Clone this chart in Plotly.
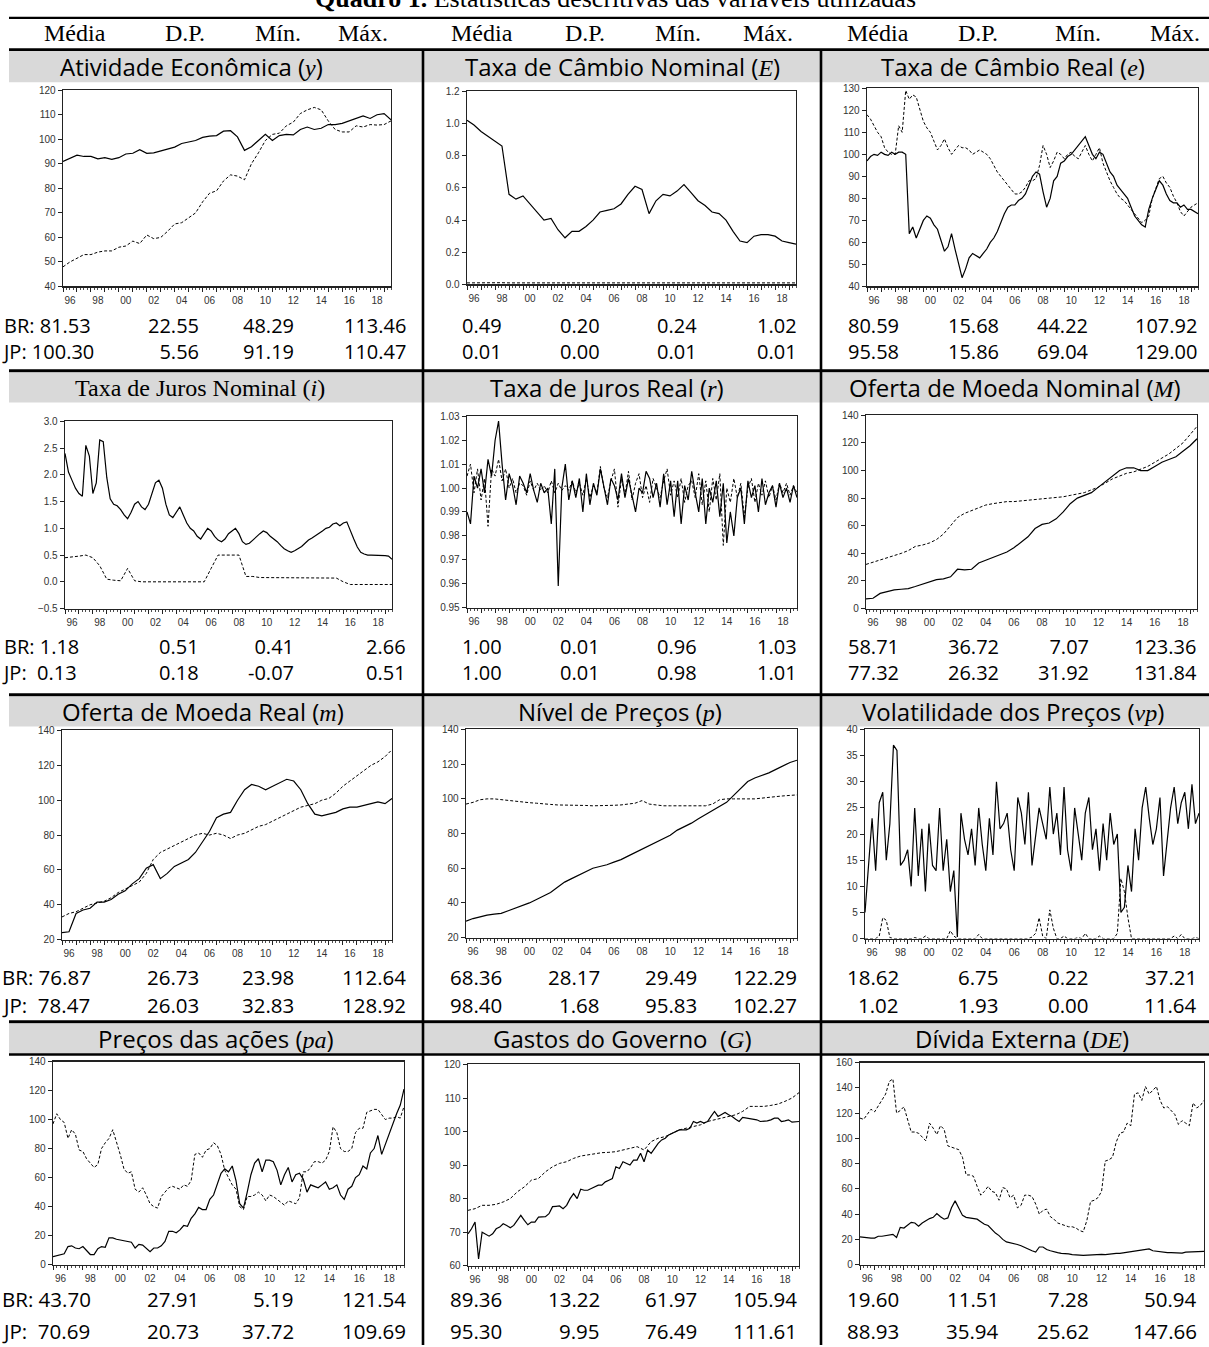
import plotly.graph_objects as go
import pandas as pd

W, H = 1209, 1347

# time index (quarterly and half-yearly observations)
XQ = list(pd.date_range("1996-01-01", "2019-07-01", freq="QS"))   # 95 obs
XH = list(pd.date_range("1996-01-01", "2019-07-01", freq="6MS"))  # 48 obs

HIDDEN_LABELS = ["97", "99", "01", "03", "05", "07", "09", "11", "13", "15", "17", "19"]
HEADER = ["Média", "D.P.", "Mín.", "Máx."]

# ---------------- series (solid / dashed lines) ----------------
y_solid = [91, 92.3, 93.5, 93, 93, 92, 92.5, 91.8, 92.5, 94, 94.3, 95.8, 94.3, 94.5, 95.3, 95.8,
           96.8, 98.3, 98.8, 99.5, 100.8, 101.3, 101.5, 103.3, 103.5, 101, 95.5, 97, 99.5, 102,
           99.5, 101.5, 102, 101.8, 104, 105, 104, 104.5, 106, 106, 106.5, 107.5, 108.5, 109.5,
           108.5, 110, 110.5, 108]
y_dashed = [48, 50, 51.5, 53, 53, 54, 54.5, 54.5, 56, 56.5, 58.5, 57.5, 61, 59.5, 60, 62.5,
            65.5, 66, 68, 70, 74.5, 78, 79, 83, 85.5, 85, 83.5, 90, 94.5, 99.5, 102, 102.5,
            105.5, 107, 110.5, 112, 113, 112, 107.5, 104, 103, 103, 105.5, 105, 106, 105.8, 106, 107.5]

E_solid = [1.02, 0.99, 0.95, 0.92, 0.89, 0.86, 0.56, 0.53, 0.55, 0.50, 0.45, 0.40, 0.41, 0.34,
           0.29, 0.33, 0.33, 0.36, 0.40, 0.45, 0.46, 0.47, 0.50, 0.56, 0.61, 0.59, 0.44, 0.52,
           0.56, 0.55, 0.58, 0.62, 0.57, 0.52, 0.49, 0.45, 0.44, 0.40, 0.33, 0.27, 0.26, 0.30,
           0.31, 0.31, 0.30, 0.27, 0.26, 0.25]
E_dashed = [0.010, 0.011, 0.011, 0.012, 0.012, 0.011, 0.010, 0.010, 0.010, 0.010, 0.009, 0.009,
            0.009, 0.009, 0.010, 0.010, 0.010, 0.010, 0.010, 0.010, 0.010, 0.010, 0.010, 0.011,
            0.011, 0.012, 0.012, 0.012, 0.013, 0.013, 0.013, 0.013, 0.013, 0.013, 0.012, 0.011,
            0.010, 0.010, 0.009, 0.009, 0.010, 0.010, 0.010, 0.010, 0.010, 0.010, 0.010, 0.010]

e_solid = [97, 99, 100, 99.5, 101, 100, 99.5, 101, 100, 101, 101, 100, 64, 67, 62, 66,
           70, 72, 71, 68, 66, 61, 56, 58, 64, 57, 50, 44, 48, 53, 55, 54,
           53, 55, 57, 60, 62, 65, 69, 73, 76, 77, 77, 79, 80, 82, 86, 90,
           92, 91, 83, 76, 80, 88, 90, 96, 97, 99, 100, 102, 104, 106, 108, 104,
           100, 98, 101, 100, 96, 92, 90, 86, 84, 82, 80, 76, 72, 70, 68, 67,
           75, 80, 84, 88, 86, 82, 79, 78, 78, 76, 77, 75, 75, 74, 73]
e_dashed = [118, 116, 113, 110, 108, 103, 101, 100, 100, 113, 110, 129, 125, 127, 126, 120,
            115, 112, 110, 106, 102, 104, 107, 103, 100, 102, 104, 103, 103, 102, 100, 101,
            102, 101, 100, 98, 95, 92, 90, 88, 86, 84, 82, 82, 83, 85, 88, 88,
            89, 95, 104, 100, 94, 97, 101, 100, 98, 100, 101, 99, 98, 101, 104, 100,
            97, 100, 103, 96, 92, 88, 85, 82, 80, 79, 77, 75, 73, 71, 69, 70,
            72, 80, 85, 89, 90, 87, 85, 81, 78, 74, 72, 74, 76, 77, 78]

i_solid = [2.40, 2.05, 1.90, 1.75, 1.65, 1.60, 2.55, 2.35, 1.65, 1.85, 2.65, 2.62, 1.95, 1.55, 1.45, 1.42,
           1.35, 1.25, 1.18, 1.30, 1.45, 1.50, 1.40, 1.35, 1.45, 1.65, 1.85, 1.90, 1.75, 1.45, 1.25, 1.20,
           1.30, 1.40, 1.25, 1.10, 1.00, 0.95, 0.85, 0.80, 0.90, 1.00, 0.95, 0.85, 0.78, 0.75, 0.80, 0.90,
           0.95, 1.00, 0.90, 0.75, 0.70, 0.72, 0.78, 0.85, 0.90, 0.95, 0.92, 0.85, 0.80, 0.75, 0.68, 0.62,
           0.58, 0.55, 0.58, 0.62, 0.66, 0.72, 0.78, 0.82, 0.86, 0.90, 0.95, 1.00, 1.02, 1.08, 1.10, 1.05,
           1.10, 1.12, 0.95, 0.80, 0.65, 0.55, 0.52, 0.50, 0.50, 0.50, 0.50, 0.50, 0.49, 0.48, 0.42]
i_dashed = [0.45, 0.46, 0.48, 0.50, 0.45, 0.30, 0.05, 0.03, 0.02, 0.25, 0.02, 0.00, 0.00, 0.00,
            0.00, 0.00, 0.00, 0.00, 0.00, 0.00, 0.00, 0.25, 0.50, 0.50, 0.50, 0.50, 0.10, 0.10,
            0.08, 0.08, 0.07, 0.07, 0.07, 0.07, 0.07, 0.07, 0.07, 0.07, 0.07, 0.07, 0.00, -0.05,
            -0.05, -0.05, -0.06, -0.06, -0.06, -0.05]

r_solid = [0.990, 0.985, 1.005, 1.000, 1.008, 0.998, 1.012, 1.005, 1.020, 1.028, 1.010, 0.995,
           1.006, 1.001, 0.993, 1.005, 1.002, 0.998, 1.006, 0.999, 0.994, 1.002, 0.998, 1.000,
           0.985, 1.008, 0.959, 1.000, 1.010, 0.995, 1.003, 0.996, 1.004, 0.990, 1.006, 0.993,
           1.002, 0.997, 1.008, 1.000, 0.993, 1.004, 1.001, 0.995, 1.006, 0.996, 1.004, 0.997,
           0.990, 1.000, 0.998, 1.007, 1.004, 0.996, 1.002, 0.992, 1.006, 0.993, 1.003, 0.988,
           1.003, 0.985, 1.001, 0.995, 1.007, 0.998, 0.990, 1.004, 0.985, 1.000, 0.994, 1.003,
           0.988, 1.002, 0.977, 0.990, 0.980, 0.996, 1.000, 0.985, 1.003, 0.996, 1.001, 0.990,
           1.004, 0.993, 0.998, 1.001, 0.992, 1.002, 0.996, 1.000, 0.994, 1.001, 0.996]
r_dashed = [1.005, 1.010, 0.998, 1.008, 0.995, 1.004, 0.984, 1.008, 1.005, 1.012, 1.003, 1.008,
            1.000, 1.004, 0.998, 1.002, 1.001, 0.997, 1.003, 0.999, 1.002, 0.999, 1.001, 0.998,
            1.003, 0.998, 1.002, 0.999, 1.001, 0.999, 1.003, 0.998, 1.002, 0.997, 1.004, 0.996,
            1.001, 0.998, 1.009, 1.000, 0.996, 1.003, 1.008, 0.992, 1.004, 0.997, 1.007, 0.995,
            1.002, 1.006, 0.996, 1.001, 0.994, 1.004, 1.000, 0.996, 1.003, 1.008, 0.997, 1.003,
            0.996, 1.004, 0.994, 1.001, 1.003, 0.996, 1.006, 0.993, 1.003, 0.990, 1.004, 0.995,
            1.006, 0.976, 1.000, 0.994, 1.004, 0.996, 1.002, 0.988, 1.000, 1.004, 0.994, 1.002,
            0.997, 1.003, 0.996, 1.001, 0.995, 1.002, 0.998, 1.002, 0.997, 1.001, 0.998]

M_solid = [7, 7.5, 11, 12.5, 13.5, 14, 14.5, 16, 17.5, 19.5, 21, 21.5, 23, 28.5, 28, 28.5,
           33, 35, 37, 39, 41, 44, 48, 52, 58, 61, 62, 65, 70, 76, 80, 82,
           84, 88, 92, 96, 100, 102, 102, 100, 100, 103, 106, 108, 110, 114, 118, 123]
M_dashed = [32, 33.5, 35.5, 37, 38.5, 40, 42, 45, 46, 47.5, 50, 54, 60, 66, 69, 71,
            73, 75, 76, 77, 77.5, 77.5, 78, 78, 78.5, 79, 79.5, 80, 81, 82, 83, 84,
            86, 88, 91, 94, 96, 98, 99, 101, 103, 106, 109, 112, 116, 120, 126, 132]

m_solid = [24, 24.5, 35, 37, 38, 41.5, 41.5, 43, 46, 48, 52, 55, 61, 63, 55, 58,
           62, 64, 66, 70, 76, 82, 90, 92, 93, 100, 106, 109, 108, 106, 108, 110,
           112, 111, 106, 98, 92, 91, 92, 93, 95, 96, 96, 97, 98, 99, 98, 101]
m_dashed = [33, 35, 36, 38, 40, 41, 42, 44, 47, 49, 51, 53, 58, 66, 70, 72,
            74, 76, 78, 80, 81, 80, 81, 80, 78, 80, 81, 83, 85, 86, 88, 90,
            92, 94, 96, 97, 98, 100, 101, 104, 108, 111, 114, 117, 120, 122, 125, 129]

p_solid = [29.5, 31, 32, 33, 33.5, 34, 35.5, 37, 38.5, 40, 42, 44, 46, 49, 52, 54,
           56, 58, 60, 61, 62, 63.5, 65, 67, 69, 71, 73, 75, 77, 79, 82, 84,
           86, 88.5, 91, 93.5, 96, 98, 102, 106, 110, 112, 113.5, 115, 117, 119, 121, 122.3]
p_dashed = [97, 98, 99.5, 100, 100, 99.5, 99, 98.5, 98, 97.8, 97.5, 97, 96.8, 96.5, 96.5, 96.3,
            96.3, 96.2, 96, 96, 96.2, 96.3, 96.5, 97, 97.5, 99, 97, 96.5, 96, 96, 95.9, 96,
            96, 96, 96, 97, 99.5, 100, 100, 100.2, 100, 100, 100.3, 100.8, 101.3, 101.7, 102, 102.3]

vp_solid = [5, 14, 23, 13, 26, 28, 15, 22, 37, 36, 14, 15, 17, 10, 25, 12,
            21, 9, 22, 14, 13, 25, 13, 19, 9, 13, 0.3, 24, 19, 16, 21, 14,
            25, 18, 13, 23, 16, 30, 21, 22, 24, 17, 13, 27, 24, 18, 28, 14,
            19, 25, 22, 19, 29, 20, 24, 16, 29, 17, 13, 25, 20, 15, 24, 27,
            17, 21, 13, 22, 15, 24, 18, 20, 5, 6, 14, 9, 21, 15, 25, 29,
            23, 18, 21, 27, 12, 18, 25, 29, 22, 26, 28, 21, 29.5, 22, 24]
vp_dashed = [0, 0, 0, 0, 0.5, 4, 3.5, 0.2, 0, 0, 0, 0, 0, 0, 0.2, 0,
             0, 0.5, 0, 0, 0, 0, 0, 0, 1.5, 0.5, 0, 0, 0, 0, 0, 0,
             0.8, 0, 0, 0, 0, 0, 0, 0, 0, 0, 0, 0, 0, 0, 0, 0.3,
             1, 4, 0.5, 0, 5.5, 2, 0, 0, 0.5, 0, 0, 0, 0.2, 0, 1, 0,
             0, 0, 0.5, 0, 0, 0, 0, 1, 11.5, 9, 4, 0, 0, 0, 0, 0,
             0, 0, 0, 0, 0, 0, 0, 0.5, 0, 0.8, 0, 0, 0, 0.2, 0]

pa_solid = [5.5, 6, 6.5, 7.5, 12.5, 13, 11.5, 11, 12.5, 10, 7, 7, 11, 12.5, 12, 18.5,
            18.5, 17.5, 17, 16.5, 15.5, 15.5, 11.5, 14, 13.5, 11.5, 9, 11.5, 11.5, 13, 16, 23,
            23, 22, 24, 27, 26.5, 32, 35, 39.5, 38, 38, 45, 48, 56, 63, 66, 64,
            68, 58, 42, 39, 50, 62, 70, 73, 64, 72, 72, 71, 65, 55, 62, 67,
            57, 62, 63, 59, 50, 55, 54, 53, 55, 57, 52, 53, 55, 48, 45, 52,
            54, 60, 62, 68, 66, 77, 80, 89, 76, 83, 90, 98, 104, 110, 121]
pa_dashed = [97, 104, 100, 98, 87, 93, 90, 79, 78, 73, 70, 67, 69, 80, 84, 87,
             93, 85, 76, 66, 63, 64, 52, 50, 53, 48, 42, 40, 39, 47, 50, 53,
             54, 53, 52, 55, 54, 58, 76, 77, 74, 79, 80, 84, 82, 76, 65, 60,
             55, 52, 40, 38, 47, 47, 48, 50, 48, 44, 48, 47, 45, 43, 41, 44,
             43, 42, 46, 64, 64, 67, 71, 71, 70, 72, 78, 95, 91, 80, 78, 78,
             80, 91, 94, 94, 105, 106, 107, 107, 103, 100, 101, 101, 102, 101, 109]

G_solid = [69.5, 71, 73, 62, 70, 69.5, 68.8, 69.5, 71, 71.5, 72.5, 72, 71.3, 72, 73.5, 75,
           73.5, 72.2, 73, 73, 74.5, 74.5, 74.6, 75.5, 77.6, 77.7, 77.8, 77, 78, 80, 81.5, 80,
           82.8, 82.5, 82.5, 83, 83.5, 84, 84, 85, 85.5, 86, 89.5, 89, 91, 90.5, 90, 91.5,
           91.5, 93.5, 91, 94.5, 93.5, 95, 96.5, 97.5, 98, 99, 99.5, 100, 100.5, 100.5, 100.5, 101,
           103, 102.5, 103, 102.5, 103, 104.5, 106, 104.5, 105, 105.7, 105, 104.5, 103.7, 103, 104.2, 104,
           104, 103.8, 103.5, 103, 103, 103.2, 103.5, 104, 104, 103, 103.2, 103.5, 102.8, 103, 103]
G_dashed = [76.5, 77, 78, 78, 78.3, 79, 80, 82, 83.5, 85.5, 86, 88, 89.5, 90.5, 91, 92,
            92.7, 93, 93.5, 93.7, 93.8, 94, 94.5, 95, 95.5, 94.5, 97, 98, 98.5, 99.5, 100.5, 101,
            101.5, 102, 103, 103.5, 104, 104.5, 105, 106, 107.5, 107.5, 107.5, 107.8, 108.2, 109, 110, 111.6]

DE_solid = [22, 21.5, 21, 21, 21, 22.5, 22.5, 23, 23.5, 24, 21.5, 29.5, 29, 31, 33.5, 33,
            30.5, 33, 35, 36.5, 37.5, 40.5, 38, 36, 37, 45, 50.5, 45, 39, 37.5, 37, 36.5,
            36, 34, 32, 31, 28, 25, 23, 20, 18, 17.5, 17, 16, 15, 13.5, 12, 11,
            10, 14, 14, 12, 11, 10, 9.5, 9, 9, 8.5, 8, 7.5, 7.5, 7.3, 7.5, 7.8,
            8, 8, 8.2, 8, 8.5, 8.8, 9, 9, 9.5, 9.5, 10, 10.5, 11, 11.5, 12, 12.5,
            11, 10.5, 10, 9.5, 9.5, 9.5, 9.5, 9.3, 9.2, 10, 10, 10, 10.2, 10.3, 10.5]
DE_dashed = [116, 115, 119, 123, 121, 126, 130, 135, 145, 147, 120, 122, 125, 115, 105, 105,
             104, 101, 98, 112, 108, 103, 110, 107, 94, 93, 92, 91, 85, 71, 71, 70,
             62, 55, 58, 62, 58, 57, 51, 61, 60, 53, 55, 45, 47, 55, 55, 54,
             48, 40, 43, 44, 38, 36, 33, 32, 31, 30, 30, 29, 27, 26, 35, 50,
             51, 53, 58, 82, 83, 85, 97, 104, 105, 112, 110, 135, 136, 130, 141, 135,
             138, 141, 130, 124, 125, 122, 119, 111, 114, 112, 110, 128, 124, 126, 130]

# ---------------- descriptive statistics (BR row, JP row) ----------------
st_y = [["BR: 81.53", "22.55", "48.29", "113.46"], ["JP: 100.30", "5.56", "91.19", "110.47"]]
st_E = [["0.49", "0.20", "0.24", "1.02"], ["0.01", "0.00", "0.01", "0.01"]]
st_e = [["80.59", "15.68", "44.22", "107.92"], ["95.58", "15.86", "69.04", "129.00"]]
st_i = [["BR: 1.18", "0.51", "0.41", "2.66"], ["JP:\u00a0 0.13", "0.18", "-0.07", "0.51"]]
st_r = [["1.00", "0.01", "0.96", "1.03"], ["1.00", "0.01", "0.98", "1.01"]]
st_M = [["58.71", "36.72", "7.07", "123.36"], ["77.32", "26.32", "31.92", "131.84"]]
st_m = [["BR: 76.87", "26.73", "23.98", "112.64"], ["JP:\u00a0 78.47", "26.03", "32.83", "128.92"]]
st_p = [["68.36", "28.17", "29.49", "122.29"], ["98.40", "1.68", "95.83", "102.27"]]
st_vp = [["18.62", "6.75", "0.22", "37.21"], ["1.02", "1.93", "0.00", "11.64"]]
st_pa = [["BR: 43.70", "27.91", "5.19", "121.54"], ["JP:\u00a0 70.69", "20.73", "37.72", "109.69"]]
st_G = [["89.36", "13.22", "61.97", "105.94"], ["95.30", "9.95", "76.49", "111.61"]]
st_DE = [["19.60", "11.51", "7.28", "50.94"], ["88.93", "35.94", "25.62", "147.66"]]

for name, arr, n in [("y_solid", y_solid, 48), ("y_dashed", y_dashed, 48), ("E_solid", E_solid, 48),
                     ("E_dashed", E_dashed, 48), ("e_solid", e_solid, 95), ("e_dashed", e_dashed, 95),
                     ("i_solid", i_solid, 95), ("i_dashed", i_dashed, 48), ("r_solid", r_solid, 95),
                     ("r_dashed", r_dashed, 95), ("M_solid", M_solid, 48), ("M_dashed", M_dashed, 48),
                     ("m_solid", m_solid, 48), ("m_dashed", m_dashed, 48), ("p_solid", p_solid, 48),
                     ("p_dashed", p_dashed, 48), ("vp_solid", vp_solid, 95), ("vp_dashed", vp_dashed, 95),
                     ("pa_solid", pa_solid, 95), ("pa_dashed", pa_dashed, 95), ("G_solid", G_solid, 95),
                     ("G_dashed", G_dashed, 48), ("DE_solid", DE_solid, 95), ("DE_dashed", DE_dashed, 95)]:
    if len(arr) != n:
        raise ValueError(f"{name}: {len(arr)} != {n}")

SANS = "Open Sans"
SERIF = "Liberation Serif"


def mvar(v):
    return f"<span style='font-family:{SERIF}'><i>{v}</i></span>"


def X(arr):
    return XQ if len(arr) == 95 else XH


# geometry of the table (window pixels)
ROWS = [  # gray bar top/bottom, title y, BR y, JP y, two-line block or not
    dict(g=(45, 77), ty=61, sy=(323, 348), block=True),
    dict(g=(370, 400), ty=385, sy=(647, 672), block=True),
    dict(g=(697, 727), ty=712, sy=(980, 1008), block=False),
    dict(g=(1027, 1057), ty=1042, sy=(1305, 1337), block=False),
]
COLS = [dict(g=(9, 422), edges=[None, 200, 295, 407], first_left=1),
        dict(g=(424, 820), edges=[503, 601, 698, 798]),
        dict(g=(822, 1209), edges=[900, 1000, 1090, 1198])]

panels = [
    dict(r=0, c=0, title=f"Atividade Econômica ({mvar('y')})", tf=SANS, tx=191, box=(63, 391, 85, 283),
         yr=(40, 120), dt=10, fmt="d", s=y_solid, d=y_dashed, st=st_y),
    dict(r=0, c=1, title=f"Taxa de Câmbio Nominal ({mvar('E')})", tf=SANS, tx=622, box=(467, 796, 86, 281),
         yr=(0, 1.2), dt=0.2, fmt=".1f", s=E_solid, d=E_dashed, st=st_E),
    dict(r=0, c=2, title=f"Taxa de Câmbio Real ({mvar('e')})", tf=SANS, tx=1013, box=(867, 1198, 83, 283),
         yr=(40, 130), dt=10, fmt="d", s=e_solid, d=e_dashed, st=st_e),
    dict(r=1, c=0, title=f"Taxa de Juros Nominal ({mvar('i')})", tf=SERIF, tx=200, box=(65, 392, 419, 608),
         yr=(-0.5, 3.0), dt=0.5, fmt=".1f", s=i_solid, d=i_dashed, st=st_i),
    dict(r=1, c=1, title=f"Taxa de Juros Real ({mvar('r')})", tf=SANS, tx=607, box=(467, 797, 414, 607),
         yr=(0.95, 1.03), dt=0.01, fmt=".2f", s=r_solid, d=r_dashed, st=st_r),
    dict(r=1, c=2, title=f"Oferta de Moeda Nominal ({mvar('M')})", tf=SANS, tx=1015, box=(866, 1197, 413, 608),
         yr=(0, 140), dt=20, fmt="d", s=M_solid, d=M_dashed, st=st_M),
    dict(r=2, c=0, title=f"Oferta de Moeda Real ({mvar('m')})", tf=SANS, tx=203, box=(62, 392, 731, 942),
         yr=(20, 140), dt=20, fmt="d", s=m_solid, d=m_dashed, st=st_m),
    dict(r=2, c=1, title=f"Nível de Preços ({mvar('p')})", tf=SANS, tx=620, box=(466, 797, 730, 940),
         yr=(20, 140), dt=20, fmt="d", s=p_solid, d=p_dashed, st=st_p),
    dict(r=2, c=2, title=f"Volatilidade dos Preços ({mvar('vp')})", tf=SANS, tx=1013, box=(865, 1199, 730, 941),
         yr=(0, 40), dt=5, fmt="d", s=vp_solid, d=vp_dashed, st=st_vp),
    dict(r=3, c=0, title=f"Preços das ações ({mvar('pa')})", tf=SANS, tx=216, box=(53, 404, 1065, 1270),
         yr=(0, 140), dt=20, fmt="d", s=pa_solid, d=pa_dashed, st=st_pa),
    dict(r=3, c=1, title=f"Gastos do Governo  ({mvar('G')})", tf=SANS, tx=622, box=(468, 799, 1068, 1271),
         yr=(60, 120), dt=10, fmt="d", s=G_solid, d=G_dashed, st=st_G),
    dict(r=3, c=2, title=f"Dívida Externa ({mvar('DE')})", tf=SANS, tx=1022, box=(860, 1204, 1066, 1270),
         yr=(0, 160), dt=20, fmt="d", s=DE_solid, d=DE_dashed, st=st_DE),
]


def px(x):
    return x / W


def py(y):
    return 1 - y / H


fig = go.Figure()
shapes = []
annotations = []

# gray title bars
for row in ROWS:
    for col in COLS:
        shapes.append(dict(type="rect", xref="paper", yref="paper", x0=px(col["g"][0]), x1=px(col["g"][1]),
                           y0=py(row["g"][1]), y1=py(row["g"][0]), fillcolor="#d9d9d9", line=dict(width=0),
                           layer="below"))


def hline(y, x0=9, x1=W + 2, w=2.6):
    shapes.append(dict(type="line", xref="paper", yref="paper", x0=px(x0), x1=px(x1), y0=py(y), y1=py(y),
                       line=dict(color="black", width=w)))


hline(12, w=2.4)
hline(44, w=2.6)
hline(368, w=3)
hline(695, w=3)
hline(1025, w=3)
hline(1058, w=2.6)
for xv in (423, 821):
    shapes.append(dict(type="line", xref="paper", yref="paper", x0=px(xv), x1=px(xv), y0=py(44), y1=py(H + 4),
                       line=dict(color="black", width=2.6)))

# page title (cut at the top edge, as in the source page)
annotations.append(dict(text="<b>Quadro 1.</b> Estatísticas descritivas das variáveis utilizadas",
                        xref="paper", yref="paper", x=px(615), y=py(-8), xanchor="center", yanchor="middle",
                        showarrow=False, font=dict(family=SERIF, size=26, color="black")))

# header row
HEAD_X = [[75, 185, 278, 363], [482, 585, 678, 768], [878, 978, 1078, 1175]]
for hx in HEAD_X:
    for lab, xv in zip(HEADER, hx):
        annotations.append(dict(text=lab, xref="paper", yref="paper", x=px(xv), y=py(27), xanchor="center",
                                yanchor="middle", showarrow=False,
                                font=dict(family=SERIF, size=24, color="black")))

labelalias = {k: "" for k in HIDDEN_LABELS}
TICKFONT = dict(family="Liberation Sans", size=10, color="#333")

for k, p in enumerate(panels, start=1):
    L, R, T, B = p["box"]
    xa = "x" if k == 1 else f"x{k}"
    ya = "y" if k == 1 else f"y{k}"
    fig.add_trace(go.Scatter(x=X(p["d"]), y=p["d"], mode="lines", xaxis=xa, yaxis=ya, showlegend=False,
                             line=dict(color="black", width=1, dash="3px,2px")))
    fig.add_trace(go.Scatter(x=X(p["s"]), y=p["s"], mode="lines", xaxis=xa, yaxis=ya, showlegend=False,
                             line=dict(color="black", width=1.2)))
    xname = "xaxis" if k == 1 else f"xaxis{k}"
    yname = "yaxis" if k == 1 else f"yaxis{k}"
    fig.layout[xname] = dict(
        domain=[px(L), px(R)], anchor=ya, type="date", range=["1996-01-01", "2019-07-01"],
        tick0="1996-01-01", dtick="M12", tickformat="%y", ticklabelmode="period", labelalias=labelalias,
        ticks="outside", ticklen=4, tickwidth=1, tickcolor="#222",
        minor=dict(dtick="M3", ticks="outside", ticklen=2, tickwidth=0.8, tickcolor="#222"),
        showline=True, mirror=True, linecolor="#222", linewidth=1.3, showgrid=False, zeroline=False,
        tickfont=TICKFONT, fixedrange=True)
    fig.layout[yname] = dict(
        domain=[py(B), py(T)], anchor=xa, range=list(p["yr"]), tick0=p["yr"][0], dtick=p["dt"],
        tickformat=p["fmt"], ticks="outside", ticklen=4, tickwidth=1, tickcolor="#222",
        showline=True, mirror=True, linecolor="#222", linewidth=1.3, showgrid=False, zeroline=False,
        tickfont=TICKFONT, fixedrange=True)

    row = ROWS[p["r"]]
    col = COLS[p["c"]]
    annotations.append(dict(text=p["title"], xref="paper", yref="paper", x=px(p["tx"]), y=py(row["ty"]),
                            xanchor="center", yanchor="middle", showarrow=False,
                            font=dict(family=p["tf"], size=24, color="black")))
    br, jp = p["st"]
    for j in range(4):
        if p["c"] == 0 and j == 0:
            xv, anchor = col["first_left"], "left"
        else:
            xv, anchor = col["edges"][j], "right"
        if row["block"]:
            # both statistics lines in one block (line pitch = 1.3 x font size)
            annotations.append(dict(text=f"{br[j]}<br>{jp[j]}", xref="paper", yref="paper", x=px(xv),
                                    y=py((row["sy"][0] + row["sy"][1]) / 2), xanchor=anchor, align=anchor,
                                    yanchor="middle", showarrow=False, borderpad=0,
                                    font=dict(family=SANS, size=20, color="black")))
        else:
            for txt, yv in zip((br[j], jp[j]), row["sy"]):
                annotations.append(dict(text=txt, xref="paper", yref="paper", x=px(xv), y=py(yv),
                                        xanchor=anchor, yanchor="middle", showarrow=False, borderpad=0,
                                        font=dict(family=SANS, size=20.5, color="black")))

fig.update_layout(width=W, height=H, margin=dict(l=0, r=0, t=0, b=0), paper_bgcolor="white",
                  plot_bgcolor="white", shapes=shapes, annotations=annotations)
# the page is photographed at exactly the figure size: drop the default page margin
fig.write_html("out.html", config={"displayModeBar": False, "staticPlot": True},
               post_script="document.body.style.margin='0px';")
